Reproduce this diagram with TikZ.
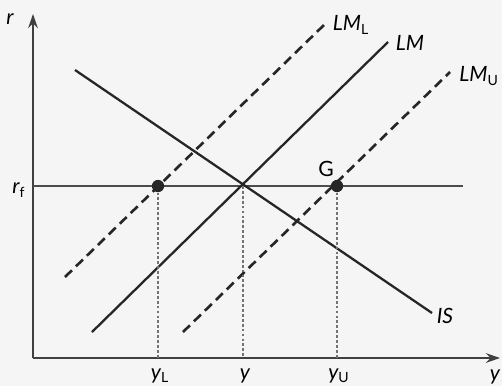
\documentclass[tikz,border=0pt]{standalone}
\usepackage{fontspec}
\setmainfont{Lato}
\usetikzlibrary{arrows.meta}

\newcommand{\sub}[1]{\textsubscript{\upshape #1}}

\begin{document}
\begin{tikzpicture}[x=0.02cm,y=-0.02cm,
        curve/.style={line width=1.3pt,black!85},
        shifted/.style={curve,line width=1.5pt,dash pattern=on 5.5pt off 3.2pt},
        guide/.style={black!55,line width=0.7pt,dash pattern=on 1.6pt off 1.2pt},
        axis/.style={line width=0.9pt,black!75,-{Stealth[length=8pt,width=5.5pt]}},
        lbl/.style={font=\itshape\large,inner sep=1pt},
        dot/.style={circle,fill=black!85,inner sep=0pt,minimum size=7pt}]
        \useasboundingbox[fill=black!4] (0,0) rectangle (502,386);
        % axes
        \coordinate (O) at (33,358);
        \coordinate (rtop) at (33,14);
        \coordinate (yend) at (500,358);
        \draw[axis] (O) -- (rtop);
        \draw[axis] (O) -- (yend);
        \node[lbl] (rlab) at (10,19) {r};
        \node[lbl] (ylab) at (495,377) {y};
        % world interest rate
        \coordinate (rfa) at (33,186);
        \coordinate (rfb) at (463,186);
        \draw[line width=0.9pt,black!70] (rfa) -- (rfb);
        \node[lbl] (rflab) at (19,190) {r\sub{f}};
        % curves
        \coordinate (ISa) at (75,70);
        \coordinate (ISb) at (432,313);
        \coordinate (LMa) at (92,332);
        \coordinate (LMb) at (388,42);
        \coordinate (LMLa) at (65,277);
        \coordinate (LMLb) at (325,24);
        \coordinate (LMUa) at (183,332);
        \coordinate (LMUb) at (450,72);
        \draw[curve] (ISa) -- (ISb);
        \draw[curve] (LMa) -- (LMb);
        \draw[shifted] (LMLa) -- (LMLb);
        \draw[shifted] (LMUa) -- (LMUb);
        \node[lbl] (ISlab) at (445,316) {IS};
        \node[lbl] (LMlab) at (410,43) {LM};
        \node[lbl] (LMLlab) at (351,25) {LM\sub{L}};
        \node[lbl] (LMUlab) at (479,76) {LM\sub{U}};
        % equilibria
        \node[dot] (L) at (158,186) {};
        \node[dot] (G) at (337,186) {};
        \coordinate (E) at (243,186);
        \node[font=\large] (Glab) at (326,169) {G};
        \coordinate (yLa) at (158,358);
        \coordinate (ya) at (243,358);
        \coordinate (yUa) at (337,358);
        \draw[guide] (L) -- (yLa);
        \draw[guide] (E) -- (ya);
        \draw[guide] (G) -- (yUa);
        \node[lbl] (yLlab) at (160,376) {y\sub{L}};
        \node[lbl] (ymid) at (245,376) {y};
        \node[lbl] (yUlab) at (339,376) {y\sub{U}};
    \end{tikzpicture}
\end{document}
